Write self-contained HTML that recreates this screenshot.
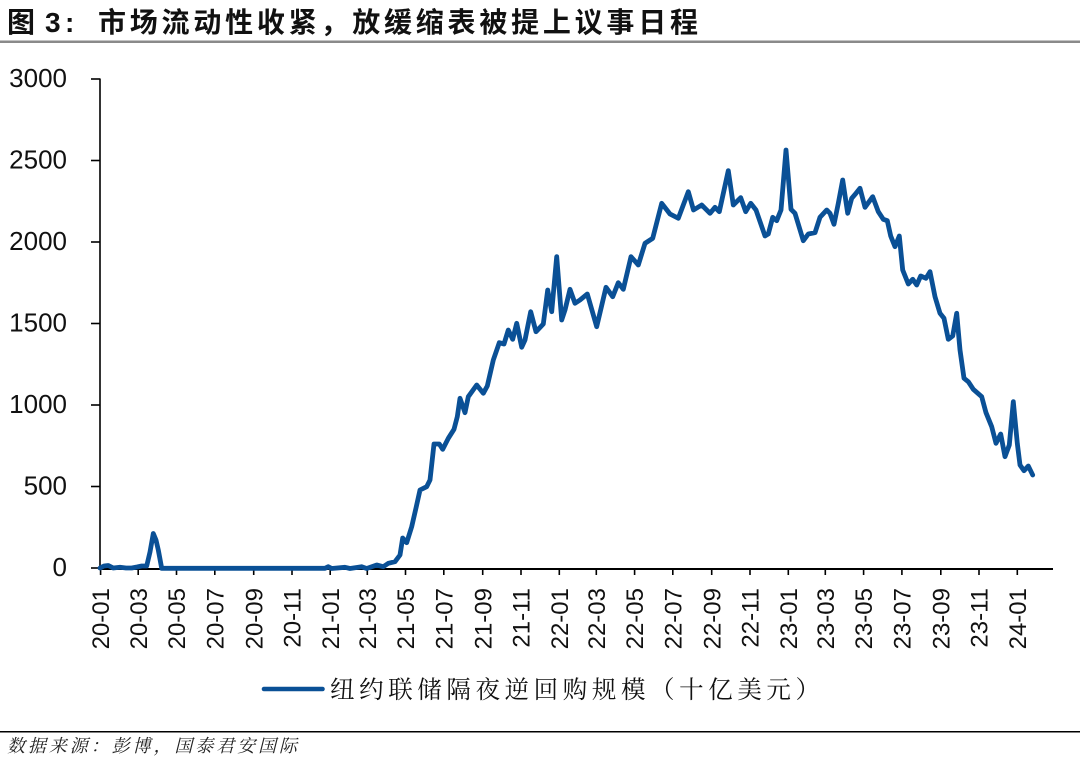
<!DOCTYPE html>
<html>
<head>
<meta charset="utf-8">
<style>
  html,body{margin:0;padding:0;background:#fff;}
  svg{display:block;}
  .cjk{font-family:"Liberation Sans","Noto Sans CJK SC",sans-serif;}
  .serif{font-family:"Liberation Serif","Noto Serif CJK SC",serif;}
  .num{font-family:"Liberation Sans",Arial,sans-serif;}
</style>
</head>
<body>
<svg width="1080" height="759" viewBox="0 0 1080 759" xmlns="http://www.w3.org/2000/svg">
  <rect x="0" y="0" width="1080" height="759" fill="#fff"/>

  <!-- Title -->
  <text x="7" y="32" class="cjk" font-size="28" font-weight="700" fill="#111">图</text>
  <text x="45" y="32" class="num" font-size="28" font-weight="700" fill="#111">3</text>
  <text x="65" y="32" class="num" font-size="28" font-weight="700" fill="#111">:</text>
  <text x="98" y="32" class="cjk" font-size="28" font-weight="700" fill="#111" textLength="600" lengthAdjust="spacing">市场流动性收紧，放缓缩表被提上议事日程</text>
  <rect x="0" y="40.5" width="1080" height="2.5" fill="#8a8a8a"/>

  <!-- Y axis -->
  <line x1="100" y1="78.5" x2="100" y2="569" stroke="#000" stroke-width="1.6"/>
  <g stroke="#000" stroke-width="1.6">
    <line x1="91" y1="79" x2="100" y2="79"/>
    <line x1="91" y1="160.5" x2="100" y2="160.5"/>
    <line x1="91" y1="242" x2="100" y2="242"/>
    <line x1="91" y1="323.5" x2="100" y2="323.5"/>
    <line x1="91" y1="405" x2="100" y2="405"/>
    <line x1="91" y1="486.5" x2="100" y2="486.5"/>
    <line x1="91" y1="568" x2="100" y2="568"/>
  </g>
  <g class="num" font-size="26" fill="#111" text-anchor="end">
    <text x="67" y="87">3000</text>
    <text x="67" y="168.5">2500</text>
    <text x="67" y="250">2000</text>
    <text x="67" y="331.5">1500</text>
    <text x="67" y="413">1000</text>
    <text x="67" y="494.5">500</text>
    <text x="67" y="576">0</text>
  </g>

  <!-- X axis -->
  <line x1="99.5" y1="569" x2="1053" y2="569" stroke="#000" stroke-width="2"/>
  <g stroke="#000" stroke-width="1.6">
    <line x1="100.6" y1="569" x2="100.6" y2="575"/>
    <line x1="138.2" y1="569" x2="138.2" y2="575"/>
    <line x1="176.5" y1="569" x2="176.5" y2="575"/>
    <line x1="214.8" y1="569" x2="214.8" y2="575"/>
    <line x1="253.7" y1="569" x2="253.7" y2="575"/>
    <line x1="292.0" y1="569" x2="292.0" y2="575"/>
    <line x1="330.2" y1="569" x2="330.2" y2="575"/>
    <line x1="367.3" y1="569" x2="367.3" y2="575"/>
    <line x1="405.5" y1="569" x2="405.5" y2="575"/>
    <line x1="443.8" y1="569" x2="443.8" y2="575"/>
    <line x1="482.7" y1="569" x2="482.7" y2="575"/>
    <line x1="521.0" y1="569" x2="521.0" y2="575"/>
    <line x1="559.3" y1="569" x2="559.3" y2="575"/>
    <line x1="596.3" y1="569" x2="596.3" y2="575"/>
    <line x1="634.6" y1="569" x2="634.6" y2="575"/>
    <line x1="672.8" y1="569" x2="672.8" y2="575"/>
    <line x1="711.7" y1="569" x2="711.7" y2="575"/>
    <line x1="750.0" y1="569" x2="750.0" y2="575"/>
    <line x1="788.3" y1="569" x2="788.3" y2="575"/>
    <line x1="825.3" y1="569" x2="825.3" y2="575"/>
    <line x1="863.6" y1="569" x2="863.6" y2="575"/>
    <line x1="901.9" y1="569" x2="901.9" y2="575"/>
    <line x1="940.8" y1="569" x2="940.8" y2="575"/>
    <line x1="979.0" y1="569" x2="979.0" y2="575"/>
    <line x1="1017.3" y1="569" x2="1017.3" y2="575"/>
  </g>
  <g class="num" font-size="24" fill="#111" text-anchor="end">
    <text transform="translate(109.2,588) rotate(-90)">20-01</text>
    <text transform="translate(146.8,588) rotate(-90)">20-03</text>
    <text transform="translate(185.1,588) rotate(-90)">20-05</text>
    <text transform="translate(223.4,588) rotate(-90)">20-07</text>
    <text transform="translate(262.3,588) rotate(-90)">20-09</text>
    <text transform="translate(300.6,588) rotate(-90)">20-11</text>
    <text transform="translate(338.8,588) rotate(-90)">21-01</text>
    <text transform="translate(375.9,588) rotate(-90)">21-03</text>
    <text transform="translate(414.1,588) rotate(-90)">21-05</text>
    <text transform="translate(452.4,588) rotate(-90)">21-07</text>
    <text transform="translate(491.3,588) rotate(-90)">21-09</text>
    <text transform="translate(529.6,588) rotate(-90)">21-11</text>
    <text transform="translate(567.9,588) rotate(-90)">22-01</text>
    <text transform="translate(604.9,588) rotate(-90)">22-03</text>
    <text transform="translate(643.2,588) rotate(-90)">22-05</text>
    <text transform="translate(681.4,588) rotate(-90)">22-07</text>
    <text transform="translate(720.3,588) rotate(-90)">22-09</text>
    <text transform="translate(758.6,588) rotate(-90)">22-11</text>
    <text transform="translate(796.9,588) rotate(-90)">23-01</text>
    <text transform="translate(833.9,588) rotate(-90)">23-03</text>
    <text transform="translate(872.2,588) rotate(-90)">23-05</text>
    <text transform="translate(910.5,588) rotate(-90)">23-07</text>
    <text transform="translate(949.4,588) rotate(-90)">23-09</text>
    <text transform="translate(987.6,588) rotate(-90)">23-11</text>
    <text transform="translate(1025.9,588) rotate(-90)">24-01</text>
  </g>

  <!-- Series -->
  <polyline fill="none" stroke="#0a5096" stroke-width="4.8" stroke-linejoin="round" stroke-linecap="round"
    points="100,568 104,566 108.3,565.5 113.3,568 120,567.3 126,568 131.7,568 137,567 141.7,566 146.7,566 150,552 153.3,533.5 156,540 158.3,550 161.7,568.3 325,568.3 328.3,566.7 331.7,568.5 345,567.3 350,568.5 361.7,566.7 366.7,568.5 376.7,565 383.3,566.7 388.3,563.3 395,561.7 400,555 402.7,538 406.7,542.7 411.7,526.7 416,508 420,490 426.7,486.7 430,480 434,444 439.3,444 442.7,449.3 448.3,438.3 454,429.3 457.3,416.7 460,398.3 465,412.7 468.3,396.7 476.7,385 483.3,393.3 487.3,386 493.3,360 499.3,342.7 504,344 508.3,330 512.7,339.3 516.7,323.3 521.7,347.3 525,340 530.7,311.7 536,331.7 543.3,324 547.7,290 551.7,311.7 556.7,256.7 561.7,320 565,310 570,289.3 575,303.3 580,300 587.3,294 596.7,326.7 606,287.3 612.7,296.7 618.3,282.7 623.3,289.3 631,256.7 638.3,265 645,243.3 652.7,238.3 661.7,203.3 670,214 678.3,218.3 688.3,191.7 693.5,210 701.7,205 710,213.3 715,207.3 719.3,211.7 728.3,170.7 733.3,205 740.7,197.7 745.7,211.7 750.7,203.3 756,210 765,236 768.3,234 772.7,217.3 776.7,220.7 781,210 786,150 791,209.3 795,213.3 803.3,240.7 808.3,234 815,232.7 820,217.3 826.7,210 830,213.3 834,224.3 838.3,203.3 842.7,180 847.7,213.3 851.7,198.3 856,193.3 860,188.3 865,207.3 872.7,196.7 878.3,211.7 883.3,219.3 887.3,220.7 890.7,236 895,246.7 899.3,236 902.7,270 908.3,284 912.7,279.3 916.7,285 920.7,276 926,278.3 930,271.7 935,296.7 940,313.3 944,318.3 948.3,339.3 952.7,336 956.7,313.3 960,350 964,378.3 968.3,381.7 973.3,389.3 981.7,396.7 986,412.7 991.7,426.7 996,443.3 1000.7,434 1005,456.7 1009.3,445 1013.3,401.7 1017.3,443.3 1020,465 1024,470.7 1028.3,466 1032.7,475"/>

  <!-- Legend -->
  <line x1="264" y1="689" x2="322.5" y2="689" stroke="#0a5096" stroke-width="4.6" stroke-linecap="round"/>
  <text x="330" y="698" class="serif" font-size="24.5" fill="#111" textLength="490" lengthAdjust="spacing">纽约联储隔夜逆回购规模（十亿美元）</text>

  <!-- Source -->
  <rect x="0" y="731" width="1080" height="1.5" fill="#000"/>
  <text x="7" y="752" class="serif" font-size="18" font-style="italic" fill="#222" textLength="290" lengthAdjust="spacing">数据来源：彭博，国泰君安国际</text>
</svg>
</body>
</html>
